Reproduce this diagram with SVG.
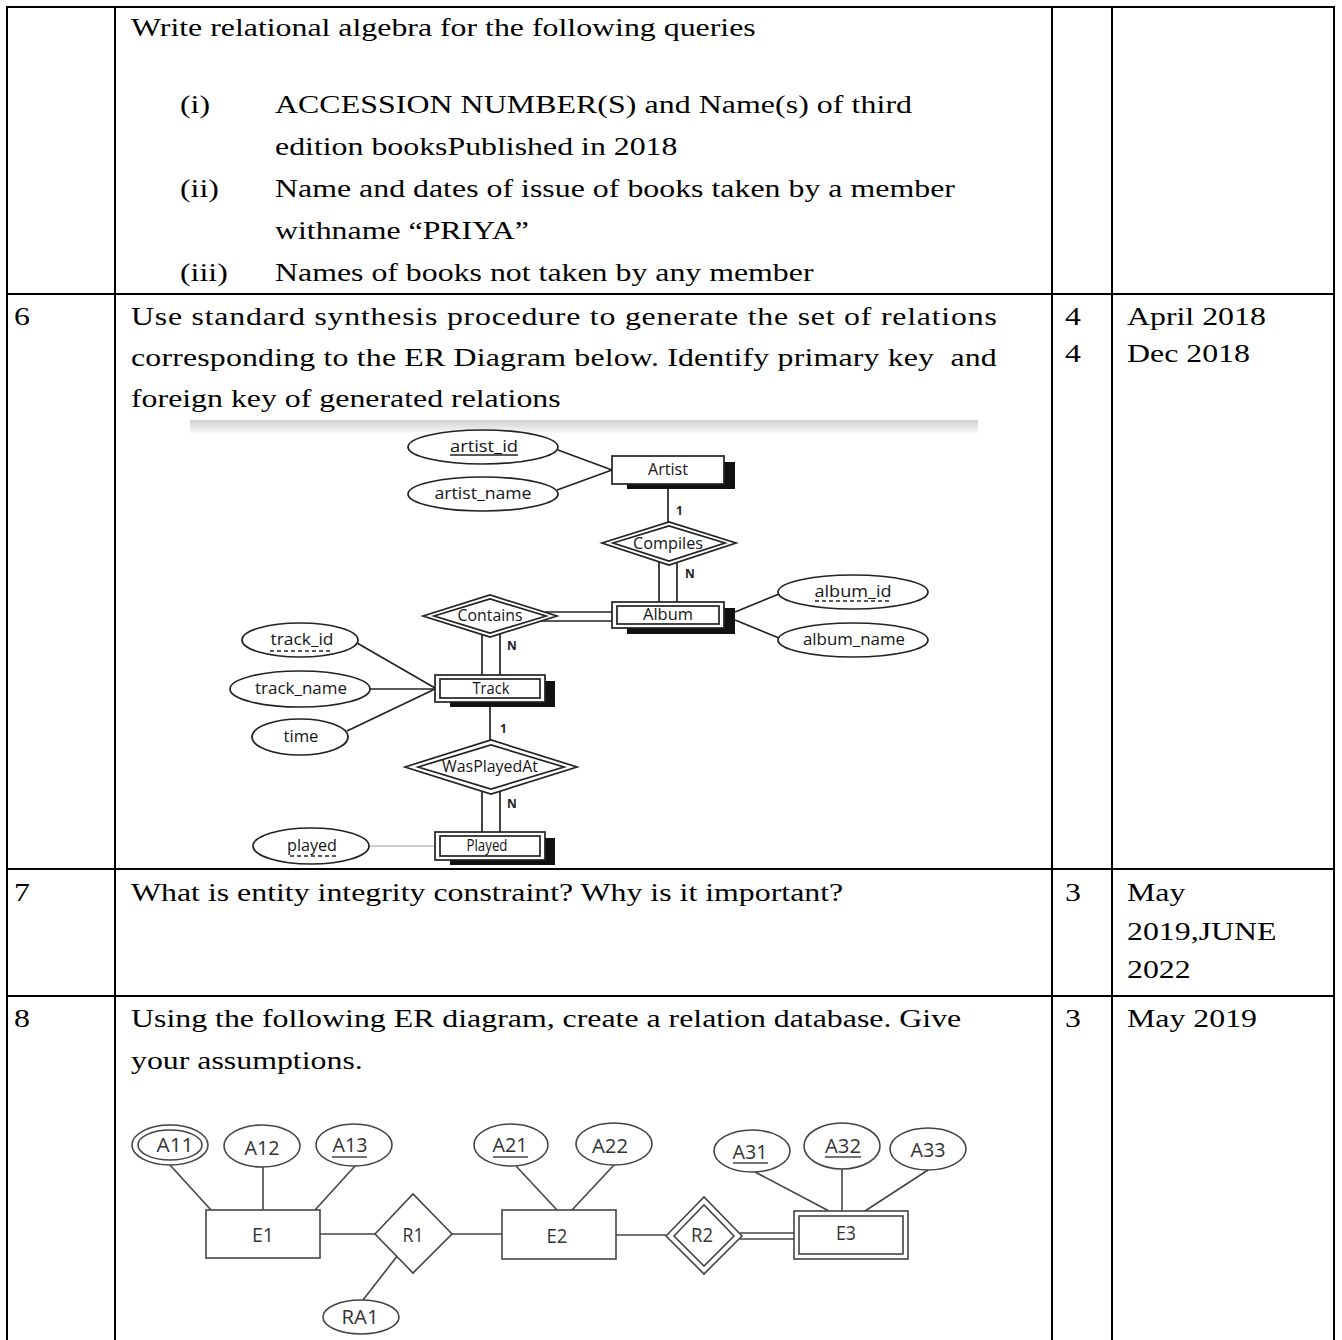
<svg xmlns="http://www.w3.org/2000/svg" width="1342" height="1340" viewBox="0 0 1342 1340">
<defs>
<style>
.t{font-family:"Liberation Serif","Times New Roman",serif;font-size:24.5px;fill:#000}
.g{stroke:#000;stroke-width:2;fill:none}
.er{font-family:"Open Sans","DejaVu Sans",sans-serif;font-size:16px;fill:#151515}
.erb{font-family:"Open Sans","DejaVu Sans",sans-serif;font-size:12px;font-weight:bold;fill:#222}
.s{stroke:#222;stroke-width:1.7;fill:#fff}
.l{stroke:#222;stroke-width:1.7;fill:none}
.sh{fill:#111}
.b{font-family:"Open Sans","Liberation Sans",sans-serif;font-size:20px;fill:#333}
.bs{stroke:#444;stroke-width:1.6;fill:#fff}
.bl{stroke:#444;stroke-width:1.6;fill:none}
</style>
<linearGradient id="band" x1="0" y1="0" x2="0" y2="1">
<stop offset="0" stop-color="#cfcfcf"/>
<stop offset="1" stop-color="#ffffff"/>
</linearGradient>
</defs>
<rect width="1342" height="1340" fill="#fff"/>

<!-- table grid -->
<g id="table">
<line class="g" x1="6" y1="7" x2="1335" y2="7"/>
<line class="g" x1="6" y1="294" x2="1335" y2="294"/>
<line class="g" x1="6" y1="869" x2="1335" y2="869"/>
<line class="g" x1="6" y1="996" x2="1335" y2="996"/>
<line class="g" x1="7" y1="6" x2="7" y2="1340"/>
<line class="g" x1="115" y1="6" x2="115" y2="1340"/>
<line class="g" x1="1052" y1="6" x2="1052" y2="1340"/>
<line class="g" x1="1112" y1="6" x2="1112" y2="1340"/>
<line class="g" x1="1334" y1="6" x2="1334" y2="1340"/>
</g>

<g id="table-text">
<text class="t" transform="translate(131,36) scale(1.3,1)">Write relational algebra for the following queries</text>
<text class="t" transform="translate(180,113) scale(1.3,1)">(i)</text>
<text class="t" transform="translate(275,113) scale(1.3,1)" textLength="490" lengthAdjust="spacing">ACCESSION NUMBER(S) and Name(s) of third</text>
<text class="t" transform="translate(275,155) scale(1.3,1)">edition booksPublished in 2018</text>
<text class="t" transform="translate(180,197) scale(1.3,1)">(ii)</text>
<text class="t" transform="translate(275,197) scale(1.3,1)" textLength="523" lengthAdjust="spacing">Name and dates of issue of books taken by a member</text>
<text class="t" transform="translate(275,239) scale(1.3,1)">withname “PRIYA”</text>
<text class="t" transform="translate(180,281) scale(1.3,1)">(iii)</text>
<text class="t" transform="translate(275,281) scale(1.3,1)">Names of books not taken by any member</text>

<text class="t" transform="translate(14,325) scale(1.3,1)">6</text>
<text class="t" transform="translate(131,325) scale(1.3,1)" textLength="666" lengthAdjust="spacing">Use standard synthesis procedure to generate the set of relations</text>
<text class="t" transform="translate(131,366) scale(1.3,1)" textLength="666" lengthAdjust="spacing" style="white-space:pre">corresponding to the ER Diagram below. Identify primary key  and</text>
<text class="t" transform="translate(131,407) scale(1.3,1)">foreign key of generated relations</text>
<text class="t" transform="translate(1065,325) scale(1.3,1)">4</text>
<text class="t" transform="translate(1065,362) scale(1.3,1)">4</text>
<text class="t" transform="translate(1127,325) scale(1.3,1)">April 2018</text>
<text class="t" transform="translate(1127,362) scale(1.3,1)">Dec 2018</text>

<text class="t" transform="translate(14,901) scale(1.3,1)">7</text>
<text class="t" transform="translate(131,901) scale(1.3,1)">What is entity integrity constraint? Why is it important?</text>
<text class="t" transform="translate(1065,901) scale(1.3,1)">3</text>
<text class="t" transform="translate(1127,901) scale(1.3,1)">May</text>
<text class="t" transform="translate(1127,940) scale(1.3,1)">2019,JUNE</text>
<text class="t" transform="translate(1127,978) scale(1.3,1)">2022</text>

<text class="t" transform="translate(14,1027) scale(1.3,1)">8</text>
<text class="t" transform="translate(131,1027) scale(1.3,1)">Using the following ER diagram, create a relation database. Give</text>
<text class="t" transform="translate(131,1069) scale(1.3,1)">your assumptions.</text>
<text class="t" transform="translate(1065,1027) scale(1.3,1)">3</text>
<text class="t" transform="translate(1127,1027) scale(1.3,1)">May 2019</text>
</g>

<!-- ER diagram 1 background band -->
<rect x="190" y="420" width="788" height="15" fill="url(#band)"/>

<g id="connectors-er1">
<line class="l" x1="558" y1="450" x2="612" y2="470"/>
<line class="l" x1="557" y1="490" x2="612" y2="470"/>
<line class="l" x1="668" y1="484" x2="668" y2="522"/>
<line class="l" x1="659" y1="562" x2="659" y2="602"/>
<line class="l" x1="677" y1="562" x2="677" y2="602"/>
<line class="l" x1="545" y1="612" x2="612" y2="612"/>
<line class="l" x1="542" y1="621" x2="612" y2="621"/>
<line class="l" x1="735" y1="612" x2="779" y2="594"/>
<line class="l" x1="735" y1="620" x2="779" y2="638"/>
<line class="l" x1="482" y1="634" x2="482" y2="675"/>
<line class="l" x1="500" y1="634" x2="500" y2="675"/>
<line class="l" x1="357" y1="643" x2="435" y2="688"/>
<line class="l" x1="370" y1="689" x2="435" y2="689"/>
<line class="l" x1="347" y1="731" x2="435" y2="689"/>
<line class="l" x1="490" y1="702" x2="490" y2="740"/>
<line class="l" x1="482" y1="792" x2="482" y2="832"/>
<line class="l" x1="500" y1="792" x2="500" y2="832"/>
<line x1="370" y1="846" x2="435" y2="846" stroke="#9a9a9a" stroke-width="1.2"/>
<text class="erb" x="676" y="515">1</text>
<text class="erb" x="685" y="578">N</text>
<text class="erb" x="507" y="650">N</text>
<text class="erb" x="500" y="733">1</text>
<text class="erb" x="507" y="808">N</text>
</g>

<g id="artist_id">
<ellipse class="s" cx="483" cy="447" rx="75" ry="17"/>
<text class="er" x="484" y="452" text-anchor="middle" textLength="68" lengthAdjust="spacingAndGlyphs">artist_id</text>
<line class="l" x1="450" y1="455" x2="518" y2="455"/>
</g>
<g id="artist_name">
<ellipse class="s" cx="483" cy="494" rx="75" ry="17"/>
<text class="er" x="483" y="499" text-anchor="middle" textLength="97" lengthAdjust="spacingAndGlyphs">artist_name</text>
</g>
<g id="artist">
<rect class="sh" x="627" y="462" width="108" height="27"/>
<rect class="s" x="612" y="456" width="112" height="28"/>
<text class="er" x="668" y="475" text-anchor="middle" textLength="40" lengthAdjust="spacingAndGlyphs">Artist</text>
</g>
<g id="compiles">
<polygon class="s" points="602,543 669,522 736,543 669,565"/>
<polygon class="l" points="613,543 669,526 725,543 669,561"/>
<text class="er" x="668" y="549" text-anchor="middle" textLength="70" lengthAdjust="spacingAndGlyphs">Compiles</text>
</g>
<g id="album">
<rect class="sh" x="627" y="608" width="108" height="26"/>
<rect class="s" x="612" y="602" width="112" height="26"/>
<rect class="l" x="617" y="606" width="102" height="18"/>
<text class="er" x="668" y="620" text-anchor="middle" textLength="50" lengthAdjust="spacingAndGlyphs">Album</text>
</g>
<g id="album_id">
<ellipse class="s" cx="853" cy="592" rx="75" ry="17"/>
<text class="er" x="853" y="597" text-anchor="middle" textLength="77" lengthAdjust="spacingAndGlyphs">album_id</text>
<line class="l" x1="815" y1="601" x2="892" y2="601" stroke-dasharray="4,3"/>
</g>
<g id="album_name">
<ellipse class="s" cx="853" cy="640" rx="75" ry="17"/>
<text class="er" x="854" y="645" text-anchor="middle" textLength="102" lengthAdjust="spacingAndGlyphs">album_name</text>
</g>
<g id="contains">
<polygon class="s" points="423,616 490,595 557,616 490,637"/>
<polygon class="l" points="434,616 490,599 546,616 490,633"/>
<text class="er" x="490" y="621" text-anchor="middle" textLength="65" lengthAdjust="spacingAndGlyphs" fill="#555">Contains</text>
</g>
<g id="track_id">
<ellipse class="s" cx="300" cy="640" rx="58" ry="17"/>
<text class="er" x="302" y="645" text-anchor="middle" textLength="63" lengthAdjust="spacingAndGlyphs">track_id</text>
<line class="l" x1="270" y1="651" x2="333" y2="651" stroke-dasharray="4,3"/>
</g>
<g id="track_name">
<ellipse class="s" cx="300" cy="689" rx="70" ry="18"/>
<text class="er" x="301" y="694" text-anchor="middle" textLength="92" lengthAdjust="spacingAndGlyphs">track_name</text>
</g>
<g id="time">
<ellipse class="s" cx="300" cy="737" rx="48" ry="18"/>
<text class="er" x="301" y="742" text-anchor="middle" textLength="35" lengthAdjust="spacingAndGlyphs">time</text>
</g>
<g id="track">
<rect class="sh" x="450" y="681" width="105" height="26"/>
<rect class="s" x="435" y="675" width="110" height="27"/>
<rect class="l" x="440" y="679" width="100" height="19"/>
<text class="er" x="491" y="694" text-anchor="middle" textLength="37" lengthAdjust="spacingAndGlyphs">Track</text>
</g>
<g id="wasplayedat">
<polygon class="s" points="405,767 491,740 577,767 491,794"/>
<polygon class="l" points="418,767 491,745 564,767 491,789"/>
<text class="er" x="490" y="772" text-anchor="middle" textLength="96" lengthAdjust="spacingAndGlyphs">WasPlayedAt</text>
</g>
<g id="played_entity">
<rect class="sh" x="450" y="838" width="105" height="27"/>
<rect class="s" x="435" y="832" width="110" height="28"/>
<rect class="l" x="440" y="836" width="100" height="20"/>
<text class="er" x="487" y="851" text-anchor="middle" textLength="41" lengthAdjust="spacingAndGlyphs">Played</text>
</g>
<g id="played_attr">
<ellipse class="s" cx="311" cy="846" rx="58" ry="18"/>
<text class="er" x="312" y="851" text-anchor="middle" textLength="50" lengthAdjust="spacingAndGlyphs">played</text>
<line class="l" x1="290" y1="856" x2="337" y2="856" stroke-dasharray="4,3"/>
</g>

<!-- ER diagram 2 -->
<g id="connectors-er2">
<line class="bl" x1="170" y1="1165" x2="211" y2="1210"/>
<line class="bl" x1="263" y1="1167" x2="263" y2="1210"/>
<line class="bl" x1="355" y1="1166" x2="315" y2="1210"/>
<line class="bl" x1="320" y1="1234" x2="375" y2="1234"/>
<line class="bl" x1="452" y1="1234" x2="502" y2="1234"/>
<line class="bl" x1="363" y1="1300" x2="398" y2="1255"/>
<line class="bl" x1="516" y1="1166" x2="557" y2="1210"/>
<line class="bl" x1="614" y1="1165" x2="572" y2="1210"/>
<line class="bl" x1="616" y1="1235" x2="666" y2="1235"/>
<line class="bl" x1="740" y1="1233" x2="794" y2="1233"/>
<line class="bl" x1="740" y1="1239" x2="794" y2="1239"/>
<line class="bl" x1="755" y1="1172" x2="829" y2="1211"/>
<line class="bl" x1="842" y1="1169" x2="842" y2="1211"/>
<line class="bl" x1="928" y1="1170" x2="865" y2="1211"/>
</g>
<g id="A11">
<ellipse class="bs" cx="170" cy="1145" rx="38" ry="20"/>
<ellipse class="bl" cx="170" cy="1145" rx="32" ry="15"/>
<text class="b" x="175" y="1152" text-anchor="middle" textLength="37" lengthAdjust="spacingAndGlyphs">A11</text>
</g>
<g id="A12">
<ellipse class="bs" cx="262" cy="1146" rx="38" ry="21"/>
<text class="b" x="262" y="1155" text-anchor="middle" textLength="35" lengthAdjust="spacingAndGlyphs">A12</text>
</g>
<g id="A13">
<ellipse class="bs" cx="354" cy="1145" rx="38" ry="21"/>
<text class="b" x="350" y="1152" text-anchor="middle" textLength="35" lengthAdjust="spacingAndGlyphs">A13</text>
<line class="bl" x1="332" y1="1157" x2="367" y2="1157"/>
</g>
<g id="E1">
<rect class="bs" x="206" y="1210" width="114" height="48"/>
<text class="b" x="263" y="1242" text-anchor="middle" textLength="22" lengthAdjust="spacingAndGlyphs">E1</text>
</g>
<g id="R1">
<polygon class="bs" points="375,1234 413,1194 452,1234 413,1273"/>
<text class="b" x="413" y="1242" text-anchor="middle" textLength="21" lengthAdjust="spacingAndGlyphs">R1</text>
</g>
<g id="RA1">
<ellipse class="bs" cx="361" cy="1317" rx="38" ry="17"/>
<text class="b" x="360" y="1324" text-anchor="middle" textLength="37" lengthAdjust="spacingAndGlyphs">RA1</text>
</g>
<g id="A21">
<ellipse class="bs" cx="511" cy="1145" rx="37" ry="21"/>
<text class="b" x="510" y="1152" text-anchor="middle" textLength="35" lengthAdjust="spacingAndGlyphs">A21</text>
<line class="bl" x1="493" y1="1157" x2="528" y2="1157"/>
</g>
<g id="E2">
<rect class="bs" x="502" y="1210" width="114" height="49"/>
<text class="b" x="557" y="1243" text-anchor="middle" textLength="21" lengthAdjust="spacingAndGlyphs">E2</text>
</g>
<g id="A22">
<ellipse class="bs" cx="614" cy="1144" rx="38" ry="21"/>
<text class="b" x="610" y="1153" text-anchor="middle" textLength="36" lengthAdjust="spacingAndGlyphs">A22</text>
</g>
<g id="R2">
<polygon class="bs" points="666,1236 704,1197 742,1236 704,1274"/>
<polygon class="bl" points="674,1236 704,1205 734,1236 704,1266"/>
<text class="b" x="702" y="1242" text-anchor="middle" textLength="22" lengthAdjust="spacingAndGlyphs">R2</text>
</g>
<g id="E3">
<rect class="bs" x="794" y="1211" width="114" height="48"/>
<rect class="bl" x="799" y="1216" width="104" height="38"/>
<text class="b" x="846" y="1240" text-anchor="middle" textLength="20" lengthAdjust="spacingAndGlyphs">E3</text>
</g>
<g id="A31">
<ellipse class="bs" cx="752" cy="1151" rx="38" ry="21"/>
<text class="b" x="750" y="1159" text-anchor="middle" textLength="35" lengthAdjust="spacingAndGlyphs">A31</text>
<line class="bl" x1="733" y1="1163" x2="768" y2="1163"/>
</g>
<g id="A32">
<ellipse class="bs" cx="842" cy="1146" rx="38" ry="23"/>
<text class="b" x="843" y="1153" text-anchor="middle" textLength="36" lengthAdjust="spacingAndGlyphs">A32</text>
<line class="bl" x1="825" y1="1157" x2="861" y2="1157"/>
</g>
<g id="A33">
<ellipse class="bs" cx="928" cy="1149" rx="38" ry="21"/>
<text class="b" x="928" y="1157" text-anchor="middle" textLength="35" lengthAdjust="spacingAndGlyphs">A33</text>
</g>
</svg>
